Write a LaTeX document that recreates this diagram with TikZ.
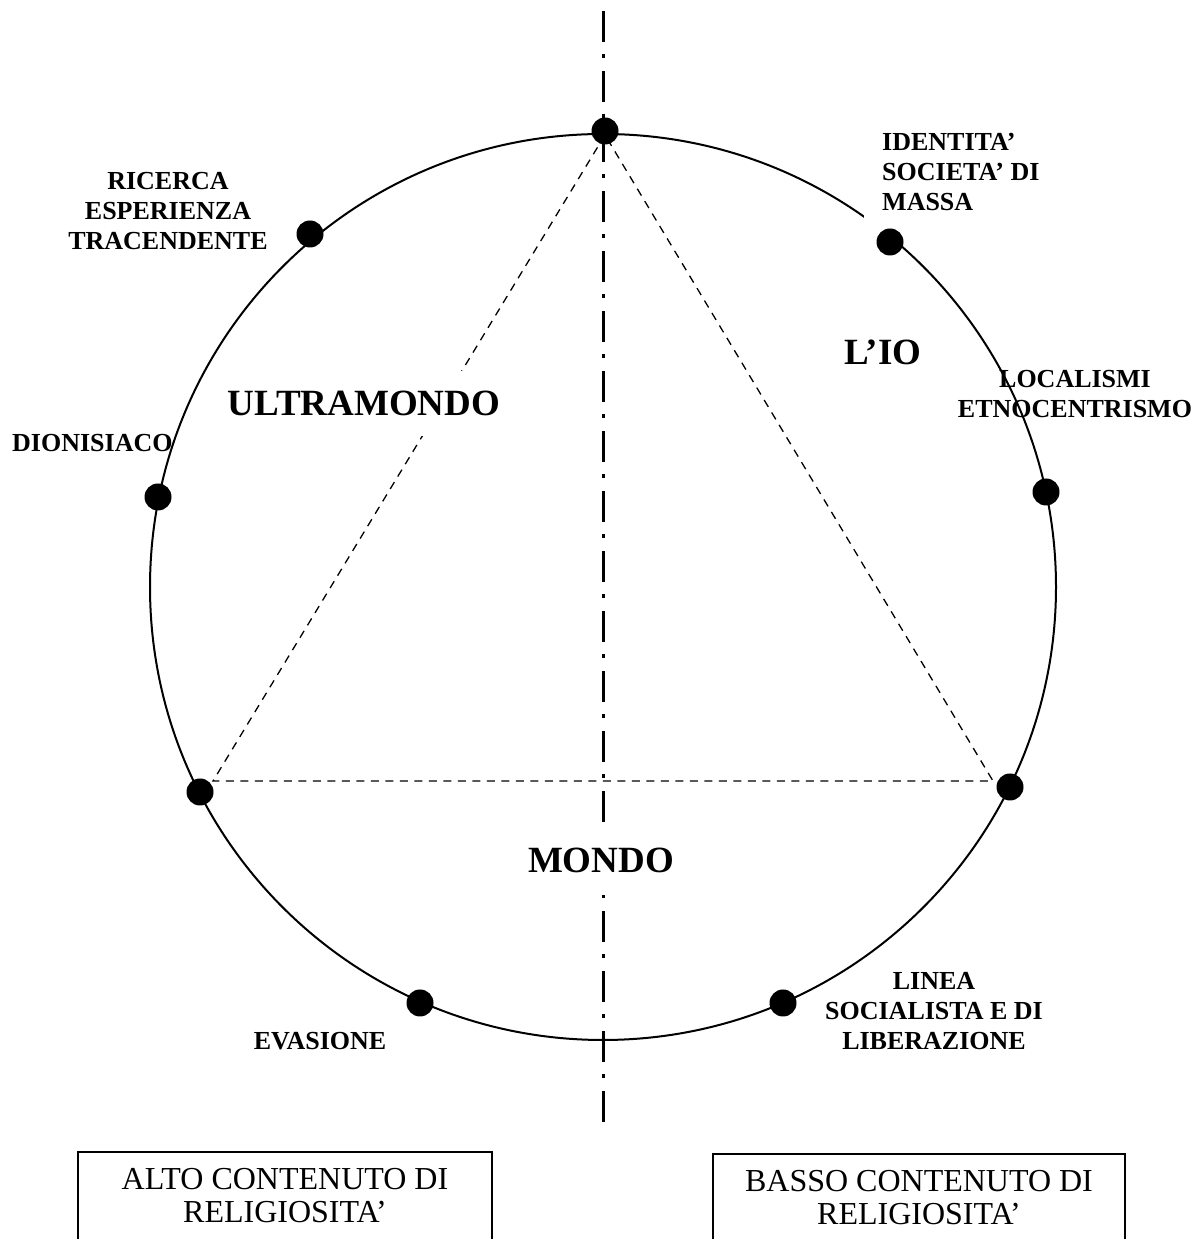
\documentclass[tikz,border=0pt]{standalone}
\usepackage{fontspec}
\setmainfont{Liberation Serif}
\usetikzlibrary{positioning,calc}
\tikzset{
    ringline/.style={line width=2pt},
    ringdot/.style={circle, fill=black, inner sep=0pt, minimum size=27pt},
    pointlabel/.style={font=\fontsize{26}{30}\selectfont\bfseries, align=center, inner sep=0pt},
    zonelabel/.style={font=\fontsize{37}{40}\selectfont\bfseries, inner sep=0pt},
    framebox/.style={draw, line width=2pt, align=center, font=\fontsize{32}{33}\selectfont,
        inner ysep=16pt, text depth=80pt},
    axisline/.style={line width=3pt, dash pattern=on 31pt off 12.5pt on 4pt off 12.5pt},
    triline/.style={line width=1.3pt, dash pattern=on 8pt off 6.5pt}
}

\begin{document}
\begin{tikzpicture}[x=1pt, y=1pt]
\useasboundingbox (0,0) rectangle (1203,1239);
% circle and axis
\coordinate (centre) at (603,652);
\draw[ringline] (centre) circle[radius=453pt];
\coordinate (axtop) at (603,1228);
\coordinate (axbot) at (603,117);
\draw[axisline] (axtop) -- (axbot);
% triangle
\coordinate (tritop) at (605,1104);
\coordinate (trileft) at (213,458);
\coordinate (triright) at (993,458);
\draw[triline] (tritop) -- (trileft) -- (triright) -- cycle;
% zones
\node[zonelabel, fill=white, inner xsep=4pt, inner ysep=20pt, anchor=base] (ultra) at (364,823) {ULTRAMONDO};
\node[zonelabel, fill=white, inner xsep=4pt, inner ysep=22pt, anchor=base] (mondo) at (601,366) {MONDO};
\node[zonelabel, anchor=base] (io) at (883,874) {L’IO};
% labels (base = last line)
\node[pointlabel, anchor=base] (lricerca) at (168,989) {RICERCA\\ESPERIENZA\\TRACENDENTE};
\node[pointlabel, align=left, fill=white, inner xsep=18pt, inner ysep=26pt, anchor=base west] (lidentita) at (864,1028) {IDENTITA’\\SOCIETA’ DI\\MASSA};
\node[pointlabel, anchor=base] (llocal) at (1075,821) {LOCALISMI\\ETNOCENTRISMO};
\node[pointlabel, anchor=base west] (ldionis) at (12,787) {DIONISIACO};
\node[pointlabel, anchor=base] (levas) at (320,189) {EVASIONE};
\node[pointlabel, anchor=base] (llinea) at (934,189) {LINEA\\SOCIALISTA E DI\\LIBERAZIONE};
% dots
\node[ringdot] (ptop) at (605,1108) {};
\node[ringdot] (pricerca) at (310,1005) {};
\node[ringdot] (pidentita) at (890,997) {};
\node[ringdot] (pdionis) at (158,742) {};
\node[ringdot] (plocal) at (1046,747) {};
\node[ringdot] (pleft) at (200,447) {};
\node[ringdot] (pright) at (1010,452) {};
\node[ringdot] (pevas) at (420,236) {};
\node[ringdot] (plinea) at (783,236) {};
% boxes
\node[framebox, anchor=north, minimum width=414pt] (alto) at (285,88) {ALTO CONTENUTO DI\\RELIGIOSITA’};
\node[framebox, anchor=north, minimum width=412pt] (basso) at (919,86) {BASSO CONTENUTO DI\\RELIGIOSITA’};
\end{tikzpicture}
\end{document}
